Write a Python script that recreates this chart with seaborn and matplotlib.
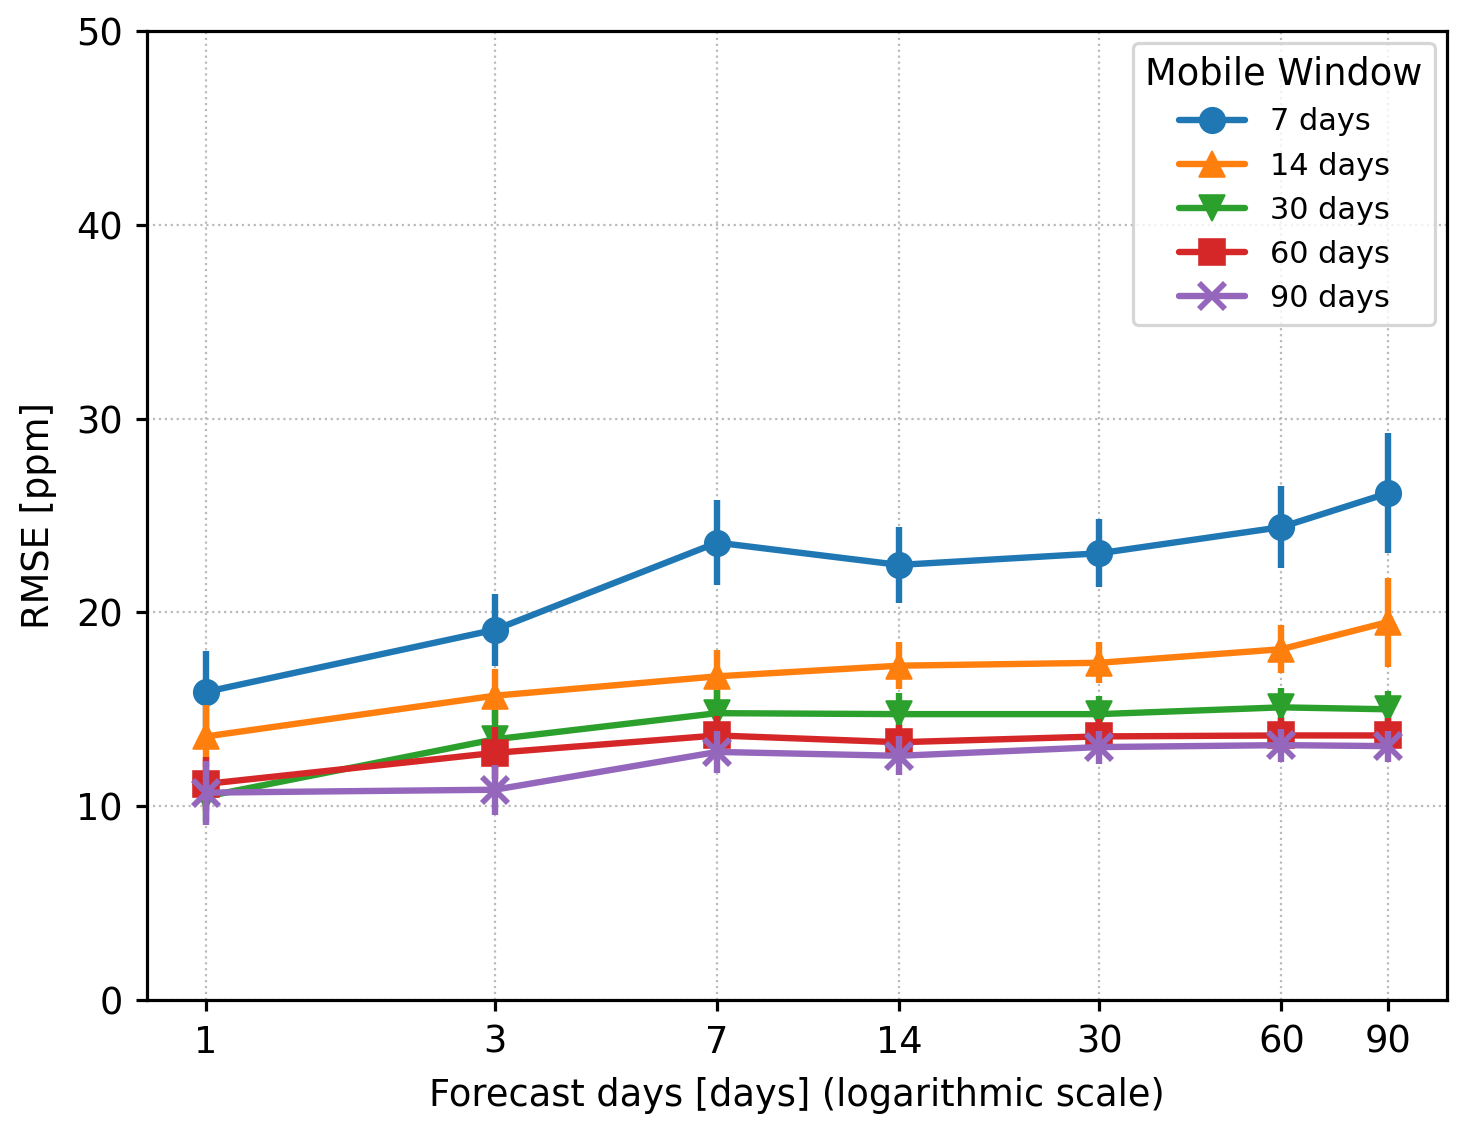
import matplotlib
matplotlib.use("Agg")
import matplotlib.pyplot as plt
import seaborn as sns
import numpy as np

forecast_days = [1, 3, 7, 14, 30, 60, 90]
tick_labels = ['1', '3', '7', '14', '30', '60', '90']
windows = ['7 days', '14 days', '30 days', '60 days', '90 days']

rmse_7 = [15.9, 19.1, 23.6, 22.45, 23.05, 24.4, 26.15]
err_7 = [2.1, 1.85, 2.2, 1.95, 1.75, 2.1, 3.1]
rmse_14 = [13.6, 15.7, 16.7, 17.25, 17.4, 18.1, 19.5]
err_14 = [1.6, 1.4, 1.35, 1.2, 1.05, 1.25, 2.3]
rmse_30 = [10.5, 13.45, 14.8, 14.75, 14.75, 15.1, 15.0]
err_30 = [1.3, 1.5, 1.2, 1.1, 0.95, 1.0, 0.95]
rmse_60 = [11.15, 12.75, 13.65, 13.3, 13.6, 13.65, 13.65]
err_60 = [1.4, 1.35, 1.0, 0.9, 0.9, 0.9, 0.9]
rmse_90 = [10.7, 10.85, 12.8, 12.6, 13.05, 13.15, 13.1]
err_90 = [1.65, 1.3, 1.1, 1.0, 0.85, 0.85, 0.8]

series = [rmse_7, rmse_14, rmse_30, rmse_60, rmse_90]
errors = [err_7, err_14, err_30, err_60, err_90]
markers = ['o', '^', 'v', 's', 'x']

sns.set_style("ticks", {"axes.edgecolor": "black", "text.color": "black",
                        "axes.labelcolor": "black", "xtick.color": "black",
                        "ytick.color": "black"})
plt.rcParams['font.family'] = ['DejaVu Sans']
plt.rcParams['axes.linewidth'] = 1.0
colors = sns.color_palette("tab10", 5)

fig, ax = plt.subplots(figsize=(1473 / 230, 1126 / 230), dpi=230)
fig.subplots_adjust(left=0.0998, right=0.9823, top=0.9725, bottom=0.1119)

z = 2
for name, vals, errs, m, c in zip(windows, series, errors, markers, colors):
    ax.errorbar(forecast_days, vals, yerr=errs, fmt='none', ecolor=c,
                elinewidth=2.0, capsize=0, zorder=z)
    sns.lineplot(x=forecast_days, y=vals, ax=ax, color=c, marker=m,
                 markersize=8, markeredgecolor=c,
                 markeredgewidth=1.8 if m == 'x' else 0.5,
                 linewidth=2.0, label=name, zorder=z + 0.5)
    z += 1

ax.set_xscale('log')
ax.set_xticks(forecast_days)
ax.set_xticklabels(tick_labels)
ax.xaxis.set_minor_locator(matplotlib.ticker.NullLocator())
ax.set_ylim(0, 50)
ax.set_yticks(np.arange(0, 51, 10))
ax.tick_params(labelsize=11.5, width=1.0, length=3.5, pad=4)
ax.grid(True, linestyle=':', color='#bbbbbb', linewidth=0.7)
ax.set_axisbelow(True)

ax.set_xlabel('Forecast days [days] (logarithmic scale)', fontsize=11.5,
              labelpad=5)
ax.set_ylabel('RMSE [ppm]', fontsize=11.5, labelpad=6)

leg = ax.legend(title='Mobile Window', loc='upper right', fontsize=9.5,
                title_fontsize=11.5, frameon=True, framealpha=0.8,
                edgecolor='#cccccc', fancybox=True, handlelength=2.2,
                borderaxespad=0.4)

fig.savefig('out.png', dpi=230)
